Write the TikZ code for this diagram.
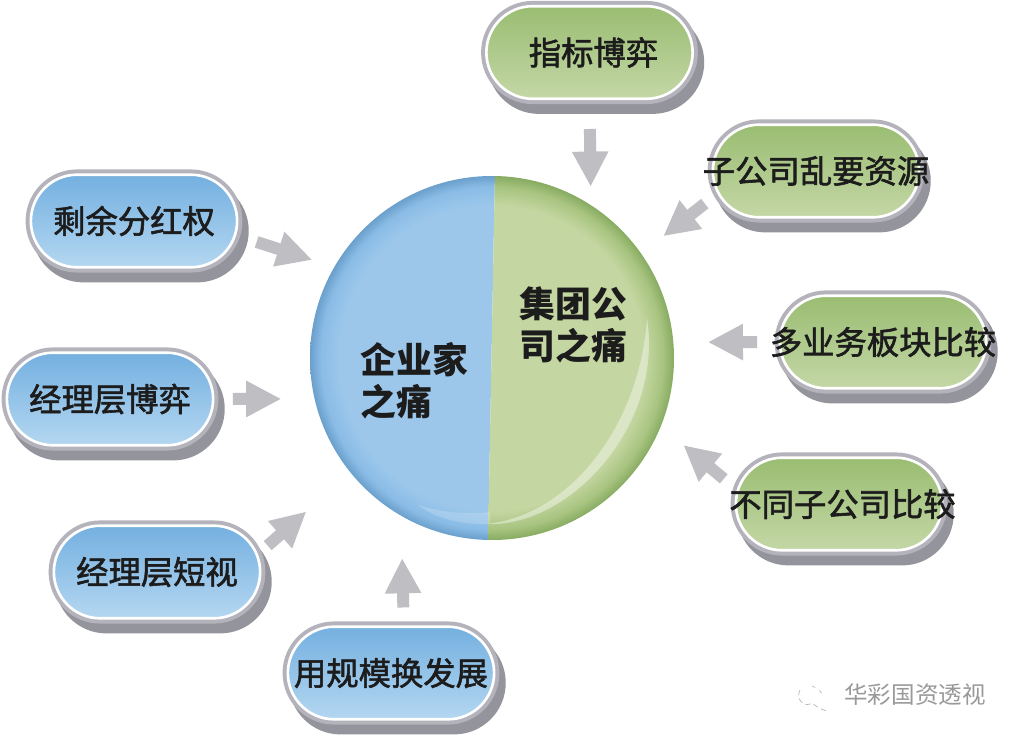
\documentclass[tikz,border=0pt]{standalone}
\usepackage{fontspec}
\setmainfont{Noto Sans CJK SC}
\newfontfamily\pillfont[FakeBold=1.8]{Noto Sans CJK SC}
\usetikzlibrary{arrows.meta}
\usetikzlibrary{shapes.misc}
\definecolor{bluetop}{HTML}{74B0E0}
\definecolor{bluebot}{HTML}{B4D7F1}
\definecolor{greentop}{HTML}{9ABD72}
\definecolor{greenbot}{HTML}{C4D7A6}
\definecolor{rimlight}{HTML}{B4B3BC}
\definecolor{rimdark}{HTML}{94949C}
\definecolor{arrowgray}{HTML}{BEBEC3}
\definecolor{inkdark}{HTML}{1C1C1C}
\definecolor{blueinner}{HTML}{9CC7EB}
\definecolor{bluemid}{HTML}{8ABCE6}
\definecolor{blueedge}{HTML}{6BA0CC}
\definecolor{greeninner}{HTML}{C4D6A1}
\definecolor{greenmid}{HTML}{A8C480}
\definecolor{greenedge}{HTML}{87AB61}
\pgfdeclareradialshading{blueball}{\pgfpoint{0bp}{0bp}}{
 color(0bp)=(blueinner);
 color(21bp)=(blueinner);
 color(23.5bp)=(bluemid);
 color(25bp)=(blueedge);
 color(50bp)=(blueedge)}
\pgfdeclareradialshading{greenball}{\pgfpoint{0bp}{0bp}}{
 color(0bp)=(greeninner);
 color(21bp)=(greeninner);
 color(23.5bp)=(greenmid);
 color(25bp)=(greenedge);
 color(50bp)=(greenedge)}
\newcommand{\overtext}[1]{\makebox[0pt]{#1}}
\tikzset{
 pill/.style={rounded rectangle, minimum width=117.4pt, minimum height=52.7pt, inner sep=0,
  draw=white, line width=1.5pt, text=inkdark, font=\fontsize{18.4pt}{20pt}\pillfont,
  preaction={draw=rimdark, fill=rimdark, line width=6pt, transform canvas={shift={(3.6pt,-5.6pt)}}},
  preaction={draw=rimlight, fill=rimlight, line width=6pt}},
 bluepill/.style={pill, top color=bluetop, bottom color=bluebot},
 greenpill/.style={pill, top color=greentop, bottom color=greenbot},
 disclabel/.style={align=left, inner sep=0, text=inkdark, font=\fontsize{20.4pt}{24.2pt}\selectfont\bfseries},
 blockarrow/.style={arrowgray, line width=6.8pt, -{Triangle[length=20pt,width=19.3pt]}}
}
\begin{document}
\begin{tikzpicture}[x=.02cm, y=-.02cm]
\useasboundingbox[fill=white] (0,0) rectangle (1018,740);
\node[circle, minimum size=206.4pt, inner sep=0] (disc) at (492,358) {};
\begin{scope}
\clip (480,170)--(495,170)--(488,545)--(300,545)--(300,170)--cycle;
\shade[shading=blueball] (disc.center) circle (182);
\end{scope}
\begin{scope}
\clip (495,170)--(680,170)--(680,545)--(488,545)--cycle;
\shade[shading=greenball] (disc.center) circle (182);
\end{scope}
\fill[white, opacity=.4] (647,318) .. controls (664,425) and (570,528) .. (486,524) .. controls (570,516) and (640,425) .. (647,318);
\fill[white, opacity=.18] (490,524) .. controls (460,525) and (435,518) .. (418,505) .. controls (440,512) and (465,515) .. (490,512);

\foreach \nm/\cx/\cy/\tx in {sheyu/134/221/剩余分红权, boyi/110/399/经理层博弈, duanshi/157/572/经理层短视, guimo/391/673/用规模换发展} {
 \node[bluepill] (\nm) at (\cx,\cy) {\overtext{\tx}};
}
\foreach \nm/\cx/\cy/\tx in {zhibiao/589.5/52.5/\hspace{4.5pt}\raisebox{-1.5pt}{指标博弈}, luanyao/816/171/子公司乱要资源, duoye/883/342/多业务板块比较, butong/839/504/\hspace{4pt}不同子公司比较} {
 \node[greenpill] (\nm) at (\cx,\cy) {\overtext{\tx}};
}

\node[disclabel, anchor=north west] (qiye) at (360,342) {企业家\\之痛};
\node[disclabel, anchor=north west] (jituan) at (519,286) {集团公\\司之痛};

\foreach \nm/\pa/\da/\sa/\sb in {zhibiao/270/57.6/29/19, luanyao/193.2/35.5/16/28.6, duoye/180/5.2/21.5/35, butong/172.3/-22.6/17/30, guimo/75.7/240.7/18/43, duanshi/10.4/219.2/13/59.5, boyi/0/193.2/18.5/33.8, sheyu/-8.4/150.6/21.5/23.7} {
 \draw[blockarrow, shorten <=\sa*.567pt, shorten >=\sb*.567pt] (\nm.\pa) -- (disc.\da);
}

\node[text=gray!80, inner sep=0, font=\fontsize{13.4pt}{14pt}\selectfont] (mark) at (915,695) {华彩国资透视};
\draw[gray!55, thin, dash pattern=on 3pt off 2pt] (800,690) .. controls (795,700) and (805,708) .. (812,703) .. controls (818,708) and (826,712) .. (828,710);
\draw[gray!55, thin, dash pattern=on 2pt off 3pt] (812,686) .. controls (818,688) and (822,692) .. (824,698);
\end{tikzpicture}
\end{document}
